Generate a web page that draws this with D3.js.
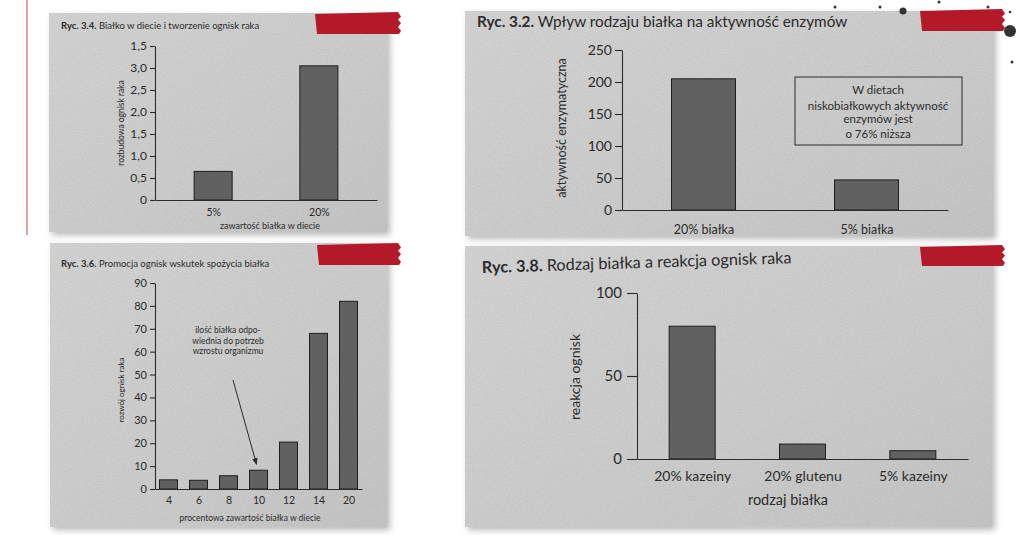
<!DOCTYPE html>
<html><head><meta charset="utf-8">
<script src="https://cdn.jsdelivr.net/npm/d3@7"></script>
<style>
html,body{margin:0;padding:0;background:#fff;}
svg{display:block;font-family:Lato,"Open Sans",sans-serif;}
</style></head><body>
<svg id="c" width="1024" height="535"></svg>
<script>
// ---------- DATA ----------
const p1Title = ["Ryc. 3.4.", " Białko w diecie i tworzenie ognisk raka"];
const p1Categories = ["5%", "20%"];
const p1Values = [0.65, 3.05];
const p1TickValues = [0, 0.5, 1, 1.5, 2, 2.5, 3, 3.5];
const p1TickLabels = ["0", "0,5", "1,0", "1,5", "2,0", "2,5", "3,0", "1,5"];
const p1XTitle = "zawartość białka w diecie";
const p1YTitle = "rozbudowa ognisk raka";

const p2Title = ["Ryc. 3.2.", " Wpływ rodzaju białka na aktywność enzymów"];
const p2Categories = ["20% białka", "5% białka"];
const p2Values = [205, 47];
const p2TickValues = [0, 50, 100, 150, 200, 250];
const p2YTitle = "aktywność enzymatyczna";
const p2Note = ["W dietach", "niskobiałkowych aktywność", "enzymów jest", "o 76% niższa"];

const p3Title = ["Ryc. 3.6.", " Promocja ognisk wskutek spożycia białka"];
const p3Categories = ["4", "6", "8", "10", "12", "14", "20"];
const p3Values = [4, 3.8, 5.8, 8.2, 20.5, 68, 82];
const p3TickValues = [0, 10, 20, 30, 40, 50, 60, 70, 80, 90];
const p3XTitle = "procentowa zawartość białka w diecie";
const p3YTitle = "rozwój ognisk raka";
const p3Note = ["ilość białka odpo-", "wiednia do potrzeb", "wzrostu organizmu"];

const p4Title = ["Ryc. 3.8.", " Rodzaj białka a reakcja ognisk raka"];
const p4Categories = ["20% kazeiny", "20% glutenu", "5% kazeiny"];
const p4Values = [80, 9, 5];
const p4TickValues = [0, 50, 100];
const p4XTitle = "rodzaj białka";
const p4YTitle = "reakcja ognisk";

// ---------- SETUP ----------
const svg = d3.select("#c");
const INK = "#2b2b2b";
const defs = svg.append("defs");
const sh = defs.append("filter").attr("id","shadow").attr("x","-5%").attr("y","-5%").attr("width","115%").attr("height","115%");
sh.append("feDropShadow").attr("dx",3).attr("dy",3).attr("stdDeviation",3).attr("flood-color","#000").attr("flood-opacity",0.28);
const nz = defs.append("filter").attr("id","noise").attr("x",0).attr("y",0).attr("width","100%").attr("height","100%");
nz.append("feTurbulence").attr("type","fractalNoise").attr("baseFrequency",0.9).attr("numOctaves",2).attr("seed",3).attr("result","t");
nz.append("feColorMatrix").attr("in","t").attr("type","matrix")
  .attr("values","0 0 0 0 0  0 0 0 0 0  0 0 0 0 0  0 0 0 0.10 0").attr("result","n");
nz.append("feComposite").attr("in","n").attr("in2","SourceGraphic").attr("operator","in");
const g1 = defs.append("linearGradient").attr("id","paper").attr("x1",0).attr("x2",1).attr("y1",0).attr("y2",1);
g1.append("stop").attr("offset","0%").attr("stop-color","#dadada");
g1.append("stop").attr("offset","60%").attr("stop-color","#d3d3d3");
g1.append("stop").attr("offset","100%").attr("stop-color","#cbcbcb");

// left pink margin line
svg.append("line").attr("x1",27).attr("x2",27).attr("y1",0).attr("y2",235)
  .attr("stroke","#e2a1aa").attr("stroke-width",2);

function photo(x, y, w, h) {
  svg.append("rect").attr("x",x).attr("y",y).attr("width",w).attr("height",h)
    .attr("fill","url(#paper)").attr("filter","url(#shadow)");
  svg.append("rect").attr("x",x).attr("y",y).attr("width",w).attr("height",h)
    .attr("fill","#000").attr("filter","url(#noise)");
}
function tape(x, y, w, h) {
  const pts = [[x,y+2],[x+w-3,y],[x+w,y+h*0.2],[x+w-3,y+h*0.35],[x+w,y+h*0.5],[x+w-3,y+h*0.68],[x+w,y+h*0.85],[x+w-2,y+h],[x+2,y+h]];
  svg.append("polygon").attr("points",pts.map(p=>p.join(",")).join(" ")).attr("fill","#b4192a");
}
function title(x, y, size, parts, rot) {
  const t = svg.append("text").attr("x",x).attr("y",y).attr("font-size",size).attr("fill",INK);
  if (rot) t.attr("transform",`rotate(${rot},${x},${y})`);
  t.append("tspan").attr("font-weight","bold").text(parts[0]);
  t.append("tspan").text(parts[1]);
}
function styleAxis(g, size) {
  g.selectAll("path.domain").attr("stroke",INK).attr("stroke-width",1.1);
  g.selectAll(".tick line").attr("stroke",INK).attr("stroke-width",1.1);
  g.selectAll(".tick text").attr("fill",INK).attr("font-size",size).attr("font-family","Lato, 'Open Sans', sans-serif");
}
function bars(x, y, cats, vals, bw) {
  svg.append("g").selectAll("rect").data(cats).join("rect")
    .attr("x",d=>x(d)-bw/2).attr("width",bw)
    .attr("y",(d,i)=>y(vals[i])).attr("height",(d,i)=>y(0)-y(vals[i]))
    .attr("fill","#616161").attr("stroke","#1e1e1e").attr("stroke-width",1);
}
function yTitle(x, y, size, txt) {
  svg.append("text").attr("transform",`translate(${x},${y}) rotate(-90)`)
    .attr("text-anchor","middle").attr("font-size",size).attr("fill",INK).text(txt);
}
function cText(x, y, size, txt) {
  svg.append("text").attr("x",x).attr("y",y).attr("text-anchor","middle")
    .attr("font-size",size).attr("fill",INK).text(txt);
}

// ---------- PHOTOS ----------
photo(49, 13, 338, 219);
photo(465, 11, 528, 225);
photo(50, 243, 337, 284);
photo(465, 246, 527, 281);

// ---------- PANEL 1 ----------
{
  const x = d3.scalePoint().domain(p1Categories).range([155, 377]).padding(0.55);
  const y = d3.scaleLinear().domain([0, 3.5]).range([200, 46]);
  bars(x, y, p1Categories, p1Values, 38);
  const ay = svg.append("g").attr("transform","translate(155,0)")
    .call(d3.axisLeft(y).tickValues(p1TickValues).tickFormat((d,i)=>p1TickLabels[i]).tickSize(5).tickSizeOuter(0).tickPadding(3));
  styleAxis(ay, 12);
  const ax = svg.append("g").attr("transform","translate(0,200)")
    .call(d3.axisBottom(x).tickSize(0).tickSizeOuter(0).tickPadding(9));
  styleAxis(ax, 10.5);
  cText(270, 229, 9, p1XTitle);
  yTitle(124, 123, 8.5, p1YTitle);
  title(61, 29, 9.5, p1Title);
}

// ---------- PANEL 2 ----------
{
  const x = d3.scalePoint().domain(p2Categories).range([622, 948]).padding(0.5);
  const y = d3.scaleLinear().domain([0, 250]).range([210, 50]);
  bars(x, y, p2Categories, p2Values, 64);
  const ay = svg.append("g").attr("transform","translate(622,0)")
    .call(d3.axisLeft(y).tickValues(p2TickValues).tickSize(7).tickSizeOuter(0).tickPadding(3));
  styleAxis(ay, 14);
  const ax = svg.append("g").attr("transform","translate(0,210)")
    .call(d3.axisBottom(x).tickSize(0).tickSizeOuter(0).tickPadding(15));
  styleAxis(ax, 12.5);
  yTitle(566, 128, 12.5, p2YTitle);
  svg.append("rect").attr("x",795).attr("y",77).attr("width",167).attr("height",68)
    .attr("fill","none").attr("stroke",INK).attr("stroke-width",1);
  const ny = [94, 110, 123, 138];
  p2Note.forEach((s,i)=>cText(878, ny[i], 11.5, s));
  title(477, 27, 15.3, p2Title);
}

// ---------- PANEL 3 ----------
{
  const x = d3.scalePoint().domain(p3Categories).range([155, 362]).padding(0.45);
  const y = d3.scaleLinear().domain([0, 90]).range([489, 283]);
  bars(x, y, p3Categories, p3Values, 18);
  const ay = svg.append("g").attr("transform","translate(155,0)")
    .call(d3.axisLeft(y).tickValues(p3TickValues).tickSize(5).tickSizeOuter(0).tickPadding(3));
  styleAxis(ay, 11);
  const ax = svg.append("g").attr("transform","translate(0,489)")
    .call(d3.axisBottom(x).tickSize(0).tickSizeOuter(0).tickPadding(8));
  styleAxis(ax, 10.5);
  cText(250, 521, 8.5, p3XTitle);
  yTitle(124, 390, 8, p3YTitle);
  const nx = 228, ny = [333, 344, 354];
  p3Note.forEach((s,i)=>cText(nx, ny[i], 8.5, s));
  // arrow to the "10" bar
  defs.append("marker").attr("id","ah").attr("viewBox","0 0 10 10").attr("refX",9).attr("refY",5)
    .attr("markerWidth",7).attr("markerHeight",7).attr("orient","auto")
    .append("path").attr("d","M0,1 L10,5 L0,9 z").attr("fill",INK);
  const tx = x("10") - 2, ty = y(p3Values[3]) - 6;
  svg.append("line").attr("x1",nx+5).attr("y1",380).attr("x2",tx).attr("y2",ty)
    .attr("stroke",INK).attr("stroke-width",1).attr("marker-end","url(#ah)");
  title(61, 267, 9.5, p3Title);
}

// ---------- PANEL 4 ----------
{
  const x = d3.scalePoint().domain(p4Categories).range([637, 968]).padding(0.5);
  const y = d3.scaleLinear().domain([0, 100]).range([459, 293]);
  bars(x, y, p4Categories, p4Values, 46);
  const ay = svg.append("g").attr("transform","translate(637,0)")
    .call(d3.axisLeft(y).tickValues(p4TickValues).tickSize(10).tickSizeOuter(0).tickPadding(5));
  styleAxis(ay, 15);
  const ax = svg.append("g").attr("transform","translate(0,459)")
    .call(d3.axisBottom(x).tickSize(0).tickSizeOuter(0).tickPadding(12));
  styleAxis(ax, 14);
  cText(788, 505, 14.5, p4XTitle);
  yTitle(580, 377, 14, p4YTitle);
  title(482, 273, 16.3, p4Title, -1.8);
}

// ---------- TAPES & DOTS ----------
tape(315, 12, 86, 22);
tape(920, 9, 85, 22);
tape(317, 243, 84, 22);
tape(920, 245, 85, 21);
const dotG = svg.append("g").attr("fill","#333");
[[835,7,1.5],[880,7,1.5],[939,2,1.5],[988,7,1.5],[1010,12,1.3],[1012,62,1.5],[903,11,3.5]].forEach(d=>
  dotG.append("circle").attr("cx",d[0]).attr("cy",d[1]).attr("r",d[2]));
dotG.append("circle").attr("cx",1010).attr("cy",31).attr("r",6);
</script>
</body></html>
